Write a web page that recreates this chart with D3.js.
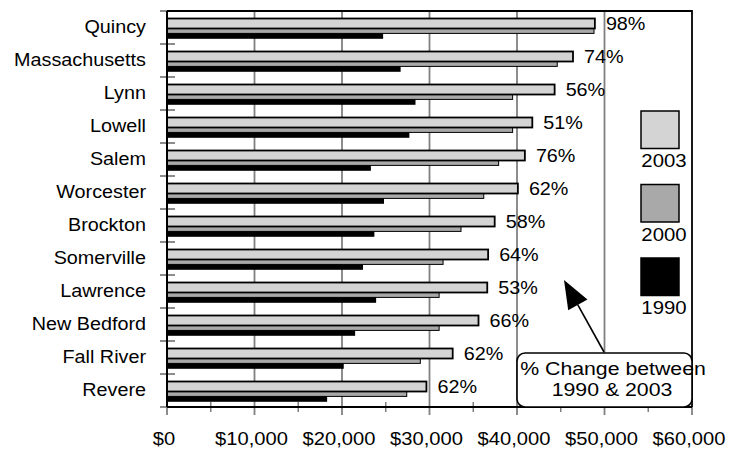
<!DOCTYPE html>
<html>
<head>
<meta charset="utf-8">
<script src="https://cdn.jsdelivr.net/npm/d3@7"></script>
<style>
  html, body { margin: 0; padding: 0; background: #fff; }
  svg { display: block; }
  text { font-family: "Liberation Sans", Arial, sans-serif; fill: #000; }
</style>
</head>
<body>
<svg id="chart" width="734" height="451"></svg>
<script>
// Median household income by community, 1990 / 2000 / 2003
const cities = ["Quincy", "Massachusetts", "Lynn", "Lowell", "Salem", "Worcester",
  "Brockton", "Somerville", "Lawrence", "New Bedford", "Fall River", "Revere"];
const income2003 = [48900, 46400, 44300, 41750, 40900, 40100, 37450, 36700, 36600, 35600, 32650, 29650];
const income2000 = [48800, 44600, 39500, 39500, 37900, 36200, 33600, 31550, 31100, 31100, 28950, 27400];
const income1990 = [24700, 26700, 28400, 27700, 23300, 24800, 23700, 22400, 23900, 21500, 20200, 18300];
const pctLabels = ["98%", "74%", "56%", "51%", "76%", "62%", "58%", "64%", "53%", "66%", "62%", "62%"];
const xTicks = [0, 10000, 20000, 30000, 40000, 50000, 60000];
const legendYears = ["2003", "2000", "1990"];

const colors = { "2003": "#d4d4d4", "2000": "#a9a9a9", "1990": "#000000" };
const gridGray = "#808080";
const fontSize = 18.5;
const stretch = 1.07;

const svg = d3.select("#chart");
const plotL = 167, plotR = 692, plotT = 11, plotB = 407;

const x = d3.scaleLinear().domain([0, 60000]).range([plotL, plotR]);
const y = d3.scaleBand().domain(cities).range([plotT, plotB]).paddingInner(0).paddingOuter(0);
const bw = y.bandwidth();

function label(g, tx, ty, str, anchor, sx) {
  return g.append("text")
    .attr("transform", `translate(${tx},${ty}) scale(${sx || stretch},1)`)
    .attr("text-anchor", anchor || "start")
    .attr("dominant-baseline", "central")
    .style("font-size", fontSize + "px")
    .text(str);
}

// gridlines (gray) extending down past the axis as major ticks
svg.append("g").selectAll("line").data(xTicks.slice(1, -1)).join("line")
  .attr("x1", d => x(d)).attr("x2", d => x(d))
  .attr("y1", plotT).attr("y2", plotB + 8)
  .attr("stroke", gridGray).attr("stroke-width", 1.8);

// minor ticks every $5,000
const minor = d3.range(5000, 60000, 10000);
svg.append("g").selectAll("line").data(minor).join("line")
  .attr("x1", d => x(d)).attr("x2", d => x(d))
  .attr("y1", plotB - 5).attr("y2", plotB + 5)
  .attr("stroke", gridGray).attr("stroke-width", 1.5);
// end major ticks
svg.append("g").selectAll("line").data([0, 60000]).join("line")
  .attr("x1", d => x(d)).attr("x2", d => x(d))
  .attr("y1", plotB).attr("y2", plotB + 8)
  .attr("stroke", gridGray).attr("stroke-width", 1.8);

// category ticks on the left axis
const bounds = cities.map(c => y(c)).concat([plotB]);
svg.append("g").selectAll("line").data(bounds).join("line")
  .attr("x1", plotL - 7).attr("x2", plotL + 8)
  .attr("y1", d => d).attr("y2", d => d)
  .attr("stroke", gridGray).attr("stroke-width", 1.8);

// plot frame: top and right border
svg.append("path")
  .attr("d", `M${plotL},${plotT}H${plotR}V${plotB}`)
  .attr("fill", "none").attr("stroke", "#000").attr("stroke-width", 1.8);

// bars: 1990 underneath, then 2000, then 2003 on top
const barH = 10;
const series = [
  { key: "1990", vals: income1990, off: 17.8, stroke: "none", sw: 0 },
  { key: "2000", vals: income2000, off: 12.4, stroke: "#000", sw: 1 },
  { key: "2003", vals: income2003, off: 7.5, stroke: "#000", sw: 1.8 }
];
series.forEach(s => {
  svg.append("g").selectAll("rect").data(cities).join("rect")
    .attr("x", x(0))
    .attr("y", d => y(d) + s.off)
    .attr("width", (d, i) => x(s.vals[i]) - x(0))
    .attr("height", barH)
    .attr("fill", colors[s.key])
    .attr("stroke", s.stroke)
    .attr("stroke-width", s.sw);
});

// axes lines
svg.append("line").attr("x1", plotL).attr("x2", plotL).attr("y1", plotT).attr("y2", plotB)
  .attr("stroke", "#000").attr("stroke-width", 2);
svg.append("line").attr("x1", plotL).attr("x2", plotR).attr("y1", plotB).attr("y2", plotB)
  .attr("stroke", "#000").attr("stroke-width", 2);

// category labels
const catG = svg.append("g");
cities.forEach(c => label(catG, 146, y(c) + bw / 2 - 1, c, "end"));

// percent change labels
const pctG = svg.append("g");
cities.forEach((c, i) => label(pctG, x(income2003[i]) + 11, y(c) + 7.5 + barH / 2, pctLabels[i], "start"));

// x tick labels
const fmt = d => "$" + d3.format(",")(d);
const xg = svg.append("g");
xTicks.forEach(t => label(xg, x(t) - 3, 438, fmt(t), "middle", 1.09));

// legend
const legG = svg.append("g");
const legTop = [111, 184.5, 258];
legendYears.forEach((k, i) => {
  legG.append("rect")
    .attr("x", 641).attr("y", legTop[i]).attr("width", 38).attr("height", 37.5)
    .attr("fill", colors[k]).attr("stroke", "#000").attr("stroke-width", 1.5);
  label(legG, 664, legTop[i] + 49.5, k, "middle", 1.1);
});

// callout with arrow
const callG = svg.append("g");
const tip = [564, 280], tail = [604, 352];
const dx = tail[0] - tip[0], dy = tail[1] - tip[1];
const len = Math.hypot(dx, dy);
const ux = dx / len, uy = dy / len;
const headL = 28.5, headW = 11;
const bx = tip[0] + ux * headL, by = tip[1] + uy * headL;
callG.append("line")
  .attr("x1", tail[0]).attr("y1", tail[1]).attr("x2", bx).attr("y2", by)
  .attr("stroke", "#000").attr("stroke-width", 1.6);
callG.append("path")
  .attr("d", `M${tip[0]},${tip[1]}L${bx - uy * headW},${by + ux * headW}L${bx + uy * headW},${by - ux * headW}Z`)
  .attr("fill", "#000");
callG.append("rect")
  .attr("x", 517).attr("y", 353).attr("width", 175).attr("height", 54).attr("rx", 8)
  .attr("fill", "#fff").attr("stroke", "#000").attr("stroke-width", 1.6);
label(callG, 613, 369, "% Change between", "middle", 1.15);
label(callG, 612, 390, "1990 & 2003", "middle", 1.15);
</script>
</body>
</html>
